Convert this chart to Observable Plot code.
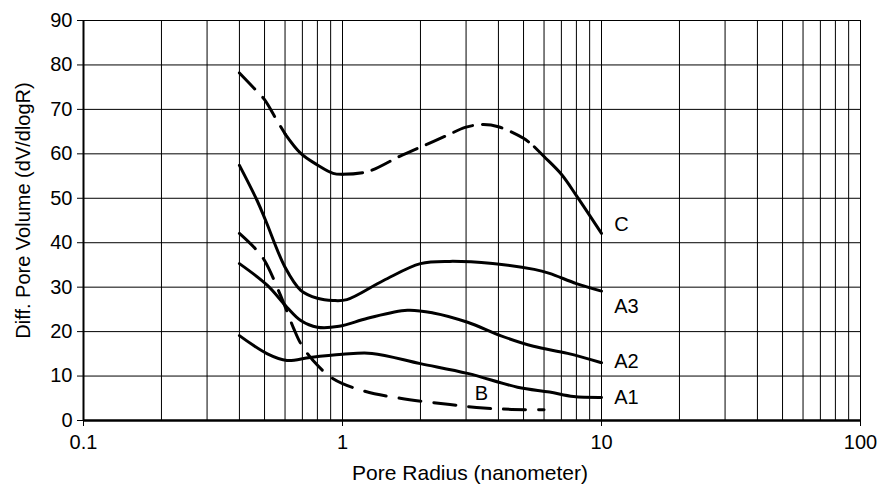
<!DOCTYPE html>
<html>
<head>
<meta charset="utf-8">
<script src="https://cdn.jsdelivr.net/npm/d3@7"></script>
<script src="https://cdn.jsdelivr.net/npm/@observablehq/plot@0.6"></script>
<style>
  html, body { margin: 0; padding: 0; background: #fff; }
</style>
</head>
<body>
<div id="chart"></div>
<script>
// Tick values and labels
const xTicks = [0.1, 1, 10, 100];
const xTickLabels = ["0.1", "1", "10", "100"];
const yTicks = [0, 10, 20, 30, 40, 50, 60, 70, 80, 90];
const xGrid = [0.2, 0.3, 0.4, 0.5, 0.6, 0.7, 0.8, 0.9, 1, 2, 3, 4, 5, 6, 7, 8, 9, 10,
               20, 30, 40, 50, 60, 70, 80, 90, 100];
const yGrid = [10, 20, 30, 40, 50, 60, 70, 80, 90];

// Series (pore radius nm, dV/dlogR)
const seriesA1 = [[0.4,19.1],[0.513,15],[0.61,13.5],[0.75,14.2],[1,14.9],[1.3,15.1],[2,12.8],[3.04,10.6],[4.74,7.5],[6.3,6.4],[7.8,5.4],[10,5.2]];
const seriesA2 = [[0.4,35.3],[0.513,30.4],[0.61,25.5],[0.69,22.5],[0.8,21],[0.97,21.2],[1.25,23],[1.78,24.8],[2.24,24.2],[3.04,22.1],[4.07,19.1],[5.46,16.7],[7.4,15.1],[10,13]];
const seriesA3 = [[0.4,57.4],[0.468,49.5],[0.505,45],[0.6,34.5],[0.69,29.3],[0.8,27.5],[0.92,27],[1.04,27.2],[1.44,31.5],[2,35.3],[2.6,35.8],[3.8,35.3],[5.5,34],[6.3,33.1],[8,30.8],[10,29.1]];
const seriesB  = [[0.4,42.1],[0.46,38.7],[0.5,36],[0.577,28.1],[0.647,20.8],[0.69,17.3],[0.77,13.5],[0.92,9.4],[1.2,6.7],[1.67,5],[2.6,3.6],[3.5,2.8],[4.5,2.5],[6,2.4]];
const seriesC  = [[0.4,78.2],[0.46,74.5],[0.5,72.2],[0.556,67.7],[0.6,64.5],[0.69,60.1],[0.8,57.5],[0.92,55.6],[1,55.4],[1.25,56],[1.67,59.5],[2,61.5],[2.5,64],[3,66],[3.5,66.6],[4,66.1],[5,63.5],[5.5,61.6],[6,59.4],[7,55.4],[8,50.6],[10,42.1]];

// Curve labels
const labelNames = ["C", "A3", "A2", "A1", "B"];
const labelX = [11.2, 11.2, 11.2, 11.2, 3.44];
const labelY = [44.1, 25.6, 13.3, 5.2, 6.0];
const labelAnchor = ["start", "start", "start", "start", "middle"];

const toPts = s => s.map(([x, y]) => ({x, y}));
const A1 = toPts(seriesA1), A2 = toPts(seriesA2), A3 = toPts(seriesA3);
const B = toPts(seriesB), C = toPts(seriesC);
const labels = labelNames.map((t, i) => ({t, x: labelX[i], y: labelY[i], a: labelAnchor[i]}));

const lineOpts = {x: "x", y: "y", stroke: "#000", strokeWidth: 3, curve: "catmull-rom"};

const chart = Plot.plot({
  width: 878,
  height: 484,
  marginLeft: 83,
  marginRight: 18,
  marginTop: 20,
  marginBottom: 64,
  x: {type: "log", domain: [0.1, 100]},
  y: {domain: [0, 90]},
  style: {fontFamily: "'Liberation Sans', Arial, sans-serif", fontSize: "20px", color: "#000", background: "#fff", overflow: "visible"},
  marks: [
    Plot.ruleX(xGrid, {stroke: "#000", strokeWidth: 1}),
    Plot.ruleY(yGrid, {stroke: "#000", strokeWidth: 1}),
    Plot.ruleX([0.1], {stroke: "#000", strokeWidth: 2}),
    Plot.ruleY([0], {stroke: "#000", strokeWidth: 2.5}),
    Plot.axisX(xTicks, {tickFormat: d => xTickLabels[xTicks.indexOf(d)], tickSize: 6, tickPadding: 8, label: null, fontSize: 20}),
    Plot.axisY(yTicks, {tickSize: 6, tickPadding: 5, label: null, fontSize: 20}),
    Plot.line(A1, lineOpts),
    Plot.line(A2, lineOpts),
    Plot.line(A3, lineOpts),
    Plot.line(B, {...lineOpts, strokeDasharray: "22,13"}),
    Plot.line(C, {...lineOpts, filter: d => d.x <= 0.6, strokeDasharray: "22,12"}),
    Plot.line(C, {...lineOpts, filter: d => d.x >= 0.6 && d.x <= 1}),
    Plot.line(C, {...lineOpts, filter: d => d.x >= 1 && d.x <= 5.5, strokeDasharray: "20,10"}),
    Plot.line(C, {...lineOpts, filter: d => d.x >= 5.5}),
    Plot.text(labels, {filter: d => d.a === "start", x: "x", y: "y", text: "t", textAnchor: "start", fill: "#000", fontSize: 20}),
    Plot.text(labels, {filter: d => d.a === "middle", x: "x", y: "y", text: "t", textAnchor: "middle", fill: "#000", fontSize: 20}),
    Plot.text(["Pore Radius (nanometer)"], {frameAnchor: "bottom", text: d => d, textAnchor: "middle", lineAnchor: "middle", dy: 53, dx: -2, fill: "#000", fontSize: 21}),
    Plot.text(["Diff. Pore Volume (dV/dlogR)"], {frameAnchor: "left", text: d => d, textAnchor: "middle", lineAnchor: "middle", rotate: -90, dx: -60, dy: -10, fill: "#000", fontSize: 20})
  ]
});
document.getElementById("chart").appendChild(chart);
</script>
</body>
</html>
